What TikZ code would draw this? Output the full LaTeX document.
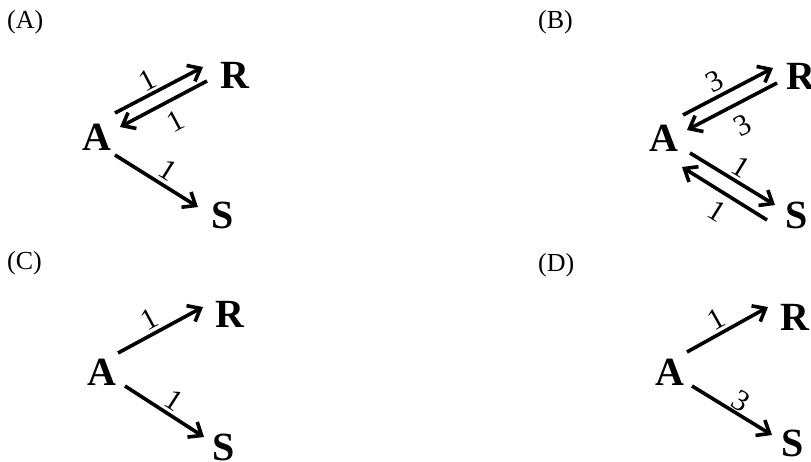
\documentclass[tikz,border=0pt]{standalone}
\usepackage{fontspec}
\setmainfont{Liberation Serif}
\usetikzlibrary{arrows.meta}
\begin{document}
\begin{tikzpicture}[x=1pt,y=-1pt,
  sp/.style={font=\fontsize{40}{40}\selectfont\bfseries, inner sep=0pt},
  tag/.style={font=\fontsize{26}{26}\selectfont, inner sep=0pt, anchor=north west},
  arr/.style={line width=3.6pt, -{Straight Barb[length=11pt,width=18pt]}},
  lbl/.style={font=\fontsize{30}{30}\selectfont, inner sep=0pt, sloped}]
\useasboundingbox (0,0) rectangle (811,462);
% ---------- panel A ----------
\node[tag] (tA) at (7,10) {(A)};
\node[sp] (A1) at (97,137) {A};
\node[sp] (R1) at (235,75) {R};
\node[sp] (S1) at (223,215) {S};
\draw[arr] ([shift={(18,-24)}]A1.center) -- node[lbl,pos=0.44,above=2.1pt] (l1) {1} ([shift={(-32,-8)}]R1.center);
\draw[arr] ([shift={(-28,6)}]R1.center) -- node[lbl,pos=0.47,below=9.4pt] (l2) {1} ([shift={(23,-10)}]A1.center);
\draw[arr] ([shift={(18,18)}]A1.center) -- node[lbl,pos=0.54,above=4pt] (l3) {1} ([shift={(-25,-8)}]S1.center);
% ---------- panel B ----------
\node[tag] (tB) at (538,10) {(B)};
\node[sp] (A2) at (664,138) {A};
\node[sp] (R2) at (801,76) {R};
\node[sp] (S2) at (797,215) {S};
\draw[arr] ([shift={(19,-23)}]A2.center) -- node[lbl,pos=0.43,above=3pt] (l4) {3} ([shift={(-28,-8)}]R2.center);
\draw[arr] ([shift={(-24,7)}]R2.center) -- node[lbl,pos=0.49,below=10pt] (l5) {3} ([shift={(23,-8)}]A2.center);
\draw[arr] ([shift={(26,15)}]A2.center) -- node[lbl,pos=0.51,above=3.2pt] (l6) {1} ([shift={(-22,-10)}]S2.center);
\draw[arr] ([shift={(-30,5)}]S2.center) -- node[lbl,pos=0.47,below=7.3pt] (l7) {1} ([shift={(18,29)}]A2.center);
% ---------- panel C ----------
\node[tag] (tC) at (7,251) {(C)};
\node[sp] (A3) at (102,372) {A};
\node[sp] (R3) at (230,314) {R};
\node[sp] (S3) at (224,447) {S};
\draw[arr] ([shift={(16,-19)}]A3.center) -- node[lbl,pos=0.45,above=3.7pt] (l8) {1} ([shift={(-27,-7)}]R3.center);
\draw[arr] ([shift={(23,14)}]A3.center) -- node[lbl,pos=0.52,above=3.3pt] (l9) {1} ([shift={(-20,-10)}]S3.center);
% ---------- panel D ----------
\node[tag] (tD) at (538,253) {(D)};
\node[sp] (A4) at (670,372) {A};
\node[sp] (R4) at (795,317) {R};
\node[sp] (S4) at (793,443) {S};
\draw[arr] ([shift={(17,-20)}]A4.center) -- node[lbl,pos=0.45,above=2.4pt] (l10) {1} ([shift={(-27,-10)}]R4.center);
\draw[arr] ([shift={(22,14)}]A4.center) -- node[lbl,pos=0.53,above=1.3pt] (l11) {3} ([shift={(-21,-8)}]S4.center);
\end{tikzpicture}
\end{document}
